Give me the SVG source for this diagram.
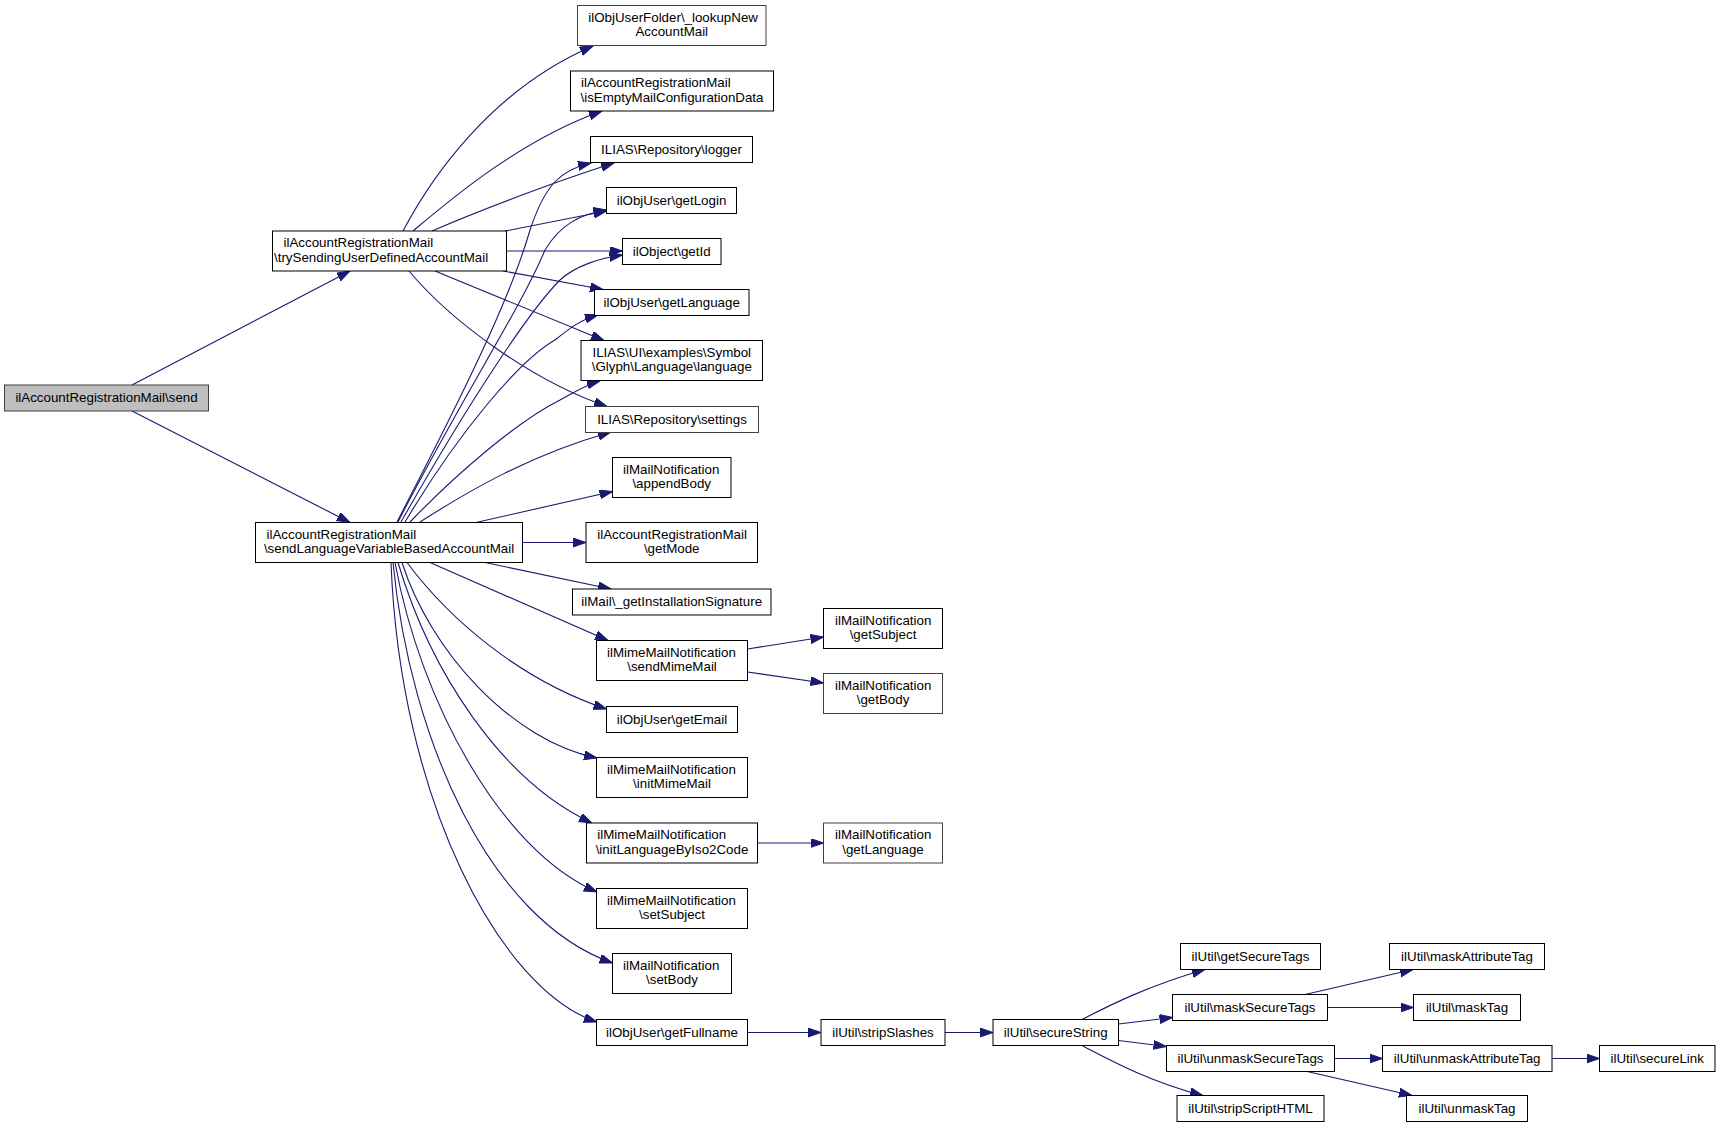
<svg xmlns="http://www.w3.org/2000/svg" width="1720" height="1127" viewBox="0 0 1720 1127">
<style>
.bg{fill:#ffffff}
rect{fill:#ffffff;stroke:#000000;stroke-width:1}
rect.root{fill:#bfbfbf;stroke:#404040}
rect.g{stroke:#404040}
text{font-family:"Liberation Sans",Arial,Helvetica,sans-serif;font-size:13.33px;fill:#000000}
text.c{text-anchor:middle}
text.s{text-anchor:start}
#edges path{fill:none;stroke:#191970;stroke-width:1.1;marker-end:url(#ah)}
</style>
<defs>
<marker id="ah" markerUnits="userSpaceOnUse" markerWidth="14" markerHeight="10" refX="13" refY="4.5" orient="auto">
<path d="M0,0 L13,4.5 L0,9 z" fill="#191970" stroke="#191970" stroke-width="1"/>
</marker>
</defs>
<rect class="bg" x="0" y="0" width="1720" height="1127" style="stroke:none"/>
<g id="edges">
<path d="M132,385 L350,271"/>
<path d="M132,411 L350,522.5"/>
<path d="M403,231 C430,180 490,90 593,46"/>
<path d="M413,231 C450,200 520,140 602,111"/>
<path d="M432,231 C480,210 560,180 614,163"/>
<path d="M503,231.5 L606.5,211"/>
<path d="M506,251 L622.5,251"/>
<path d="M503,271 L603,289.5"/>
<path d="M435,271 L604,340.5"/>
<path d="M409,271 C450,320 530,380 607,406.5"/>
<path d="M397,522 C460,400 510,300 530,230 C545,185 560,170 591,163"/>
<path d="M398,522 C460,400 520,310 545,250 C560,225 580,214 606.5,210"/>
<path d="M401,522 C470,400 530,310 560,280 C575,266 600,258 622.5,255"/>
<path d="M405,522 C460,430 520,360 555,340 C570,328 580,320 598,315"/>
<path d="M410,522 C460,470 520,420 560,400 C575,392 585,385 600,381"/>
<path d="M420,522 C470,490 530,455 611,432"/>
<path d="M476,522.5 L612.5,491.5"/>
<path d="M522.5,542.5 L586,542.5"/>
<path d="M485,562.5 L611,589"/>
<path d="M430,562.5 L608,640.5"/>
<path d="M407,562.5 C450,620 520,680 606.5,709"/>
<path d="M402,562.5 C430,650 510,740 597,758"/>
<path d="M398,562.5 C430,670 500,780 592,823"/>
<path d="M395,562.5 C420,700 500,850 597,892"/>
<path d="M393,562.5 C410,740 490,920 612.5,963"/>
<path d="M391,562.5 C400,800 500,990 597,1022"/>
<path d="M747.5,649 L823.5,637"/>
<path d="M747.5,672 L823.5,683"/>
<path d="M757.5,843 L823.5,843"/>
<path d="M747.5,1032.5 L821,1032.5"/>
<path d="M945,1032.5 L993,1032.5"/>
<path d="M1082,1019.5 C1110,1005 1150,985 1205,969.5"/>
<path d="M1118.5,1024 L1172.5,1017.5"/>
<path d="M1118.5,1040.5 L1166.5,1046.5"/>
<path d="M1082,1045.5 C1110,1060 1150,1082 1203,1095.5"/>
<path d="M1305,994.5 L1413,969.5"/>
<path d="M1327.5,1007.5 L1413.5,1007.5"/>
<path d="M1334.5,1058.5 L1382.5,1058.5"/>
<path d="M1305,1071 L1412,1095.5"/>
<path d="M1552,1058.5 L1599.5,1058.5"/>
</g>
<g id="n_send"><rect class="root" x="4.5" y="385" width="204" height="26"/><text class="c" x="106.5" y="402">ilAccountRegistrationMail\send</text></g>
<g id="n_trySending"><rect x="272.5" y="231" width="234" height="40"/><text class="s" x="283.5" y="247">ilAccountRegistrationMail</text><text class="s" x="274" y="261.7">\trySendingUserDefinedAccountMail</text></g>
<g id="n_sendLanguage"><rect x="255.5" y="522.5" width="267" height="40"/><text class="s" x="266.5" y="538.5">ilAccountRegistrationMail</text><text class="c" x="389" y="553.2">\sendLanguageVariableBasedAccountMail</text></g>
<g id="n_lookupNew"><rect class="g" x="577.5" y="5.5" width="188.5" height="40"/><text class="s" x="588.3" y="21.5">ilObjUserFolder\_lookupNew</text><text class="c" x="671.8" y="36.2">AccountMail</text></g>
<g id="n_isEmpty"><rect x="570.5" y="71" width="203" height="40"/><text class="s" x="581" y="87">ilAccountRegistrationMail</text><text class="c" x="672" y="101.7">\isEmptyMailConfigurationData</text></g>
<g id="n_logger"><rect x="590.5" y="136.5" width="162" height="26"/><text class="c" x="671.5" y="153.8">ILIAS\Repository\logger</text></g>
<g id="n_getLogin"><rect x="606.5" y="187.5" width="130" height="26"/><text class="c" x="671.5" y="204.8">ilObjUser\getLogin</text></g>
<g id="n_getId"><rect x="622.5" y="238.5" width="98.5" height="26"/><text class="c" x="671.7" y="255.8">ilObject\getId</text></g>
<g id="n_getLanguageUser"><rect x="594.5" y="289.5" width="154.5" height="26"/><text class="c" x="671.7" y="306.8">ilObjUser\getLanguage</text></g>
<g id="n_uiLanguage"><rect x="581" y="340.5" width="181.5" height="40"/><text class="s" x="592.5" y="356.5">ILIAS\UI\examples\Symbol</text><text class="c" x="671.8" y="371.2">\Glyph\Language\language</text></g>
<g id="n_settings"><rect class="g" x="585.5" y="406.5" width="173" height="26"/><text class="c" x="672" y="423.8">ILIAS\Repository\settings</text></g>
<g id="n_appendBody"><rect x="612.5" y="457.5" width="118.5" height="40"/><text class="s" x="623" y="473.5">ilMailNotification</text><text class="c" x="671.7" y="488.2">\appendBody</text></g>
<g id="n_getMode"><rect x="586" y="522.5" width="171.5" height="40"/><text class="s" x="597.3" y="538.5">ilAccountRegistrationMail</text><text class="c" x="671.7" y="553.2">\getMode</text></g>
<g id="n_installSig"><rect x="572.5" y="589" width="198.5" height="26"/><text class="c" x="671.7" y="606.3">ilMail\_getInstallationSignature</text></g>
<g id="n_sendMimeMail"><rect x="596.5" y="640.5" width="151" height="40"/><text class="s" x="607" y="656.5">ilMimeMailNotification</text><text class="c" x="672" y="671.2">\sendMimeMail</text></g>
<g id="n_getEmail"><rect x="606.5" y="706.5" width="131" height="26"/><text class="c" x="672" y="723.8">ilObjUser\getEmail</text></g>
<g id="n_initMimeMail"><rect x="596.5" y="757.5" width="151" height="40"/><text class="s" x="607" y="773.5">ilMimeMailNotification</text><text class="c" x="672" y="788.2">\initMimeMail</text></g>
<g id="n_initLang"><rect x="586.5" y="823" width="171" height="40"/><text class="s" x="597.3" y="839">ilMimeMailNotification</text><text class="c" x="672" y="853.7">\initLanguageByIso2Code</text></g>
<g id="n_setSubject"><rect x="596.5" y="888.5" width="151" height="40"/><text class="s" x="607" y="904.5">ilMimeMailNotification</text><text class="c" x="672" y="919.2">\setSubject</text></g>
<g id="n_setBody"><rect x="612.5" y="953.5" width="119" height="40"/><text class="s" x="623" y="969.5">ilMailNotification</text><text class="c" x="672" y="984.2">\setBody</text></g>
<g id="n_getFullname"><rect x="596.5" y="1019.5" width="151" height="26"/><text class="c" x="672" y="1036.8">ilObjUser\getFullname</text></g>
<g id="n_getSubject"><rect x="823.5" y="608.5" width="119" height="40"/><text class="s" x="835" y="624.5">ilMailNotification</text><text class="c" x="883" y="639.2">\getSubject</text></g>
<g id="n_getBody"><rect class="g" x="823.5" y="673.5" width="119" height="40"/><text class="s" x="835" y="689.5">ilMailNotification</text><text class="c" x="883" y="704.2">\getBody</text></g>
<g id="n_mailGetLanguage"><rect class="g" x="823.5" y="823" width="119" height="40"/><text class="s" x="835" y="839">ilMailNotification</text><text class="c" x="883" y="853.7">\getLanguage</text></g>
<g id="n_stripSlashes"><rect x="821" y="1019.5" width="124" height="26"/><text class="c" x="883" y="1036.8">ilUtil\stripSlashes</text></g>
<g id="n_secureString"><rect x="993" y="1019.5" width="125.5" height="26"/><text class="c" x="1055.7" y="1036.8">ilUtil\secureString</text></g>
<g id="n_getSecureTags"><rect x="1180.5" y="943.5" width="140" height="26"/><text class="c" x="1250.5" y="960.8">ilUtil\getSecureTags</text></g>
<g id="n_maskSecureTags"><rect x="1172.5" y="994.5" width="155" height="26"/><text class="c" x="1250" y="1011.8">ilUtil\maskSecureTags</text></g>
<g id="n_unmaskSecureTags"><rect x="1166.5" y="1045.5" width="168" height="26"/><text class="c" x="1250.5" y="1062.8">ilUtil\unmaskSecureTags</text></g>
<g id="n_stripScriptHTML"><rect x="1177" y="1095.5" width="147" height="26"/><text class="c" x="1250.5" y="1112.8">ilUtil\stripScriptHTML</text></g>
<g id="n_maskAttributeTag"><rect x="1389.5" y="943.5" width="155" height="26"/><text class="c" x="1467" y="960.8">ilUtil\maskAttributeTag</text></g>
<g id="n_maskTag"><rect x="1413.5" y="994.5" width="107" height="26"/><text class="c" x="1467" y="1011.8">ilUtil\maskTag</text></g>
<g id="n_unmaskAttributeTag"><rect x="1382.5" y="1045.5" width="169.5" height="26"/><text class="c" x="1467.2" y="1062.8">ilUtil\unmaskAttributeTag</text></g>
<g id="n_secureLink"><rect x="1599.5" y="1045.5" width="115.5" height="26"/><text class="c" x="1657.2" y="1062.8">ilUtil\secureLink</text></g>
<g id="n_unmaskTag"><rect x="1406.5" y="1095.5" width="121" height="26"/><text class="c" x="1467" y="1112.8">ilUtil\unmaskTag</text></g>
</svg>
